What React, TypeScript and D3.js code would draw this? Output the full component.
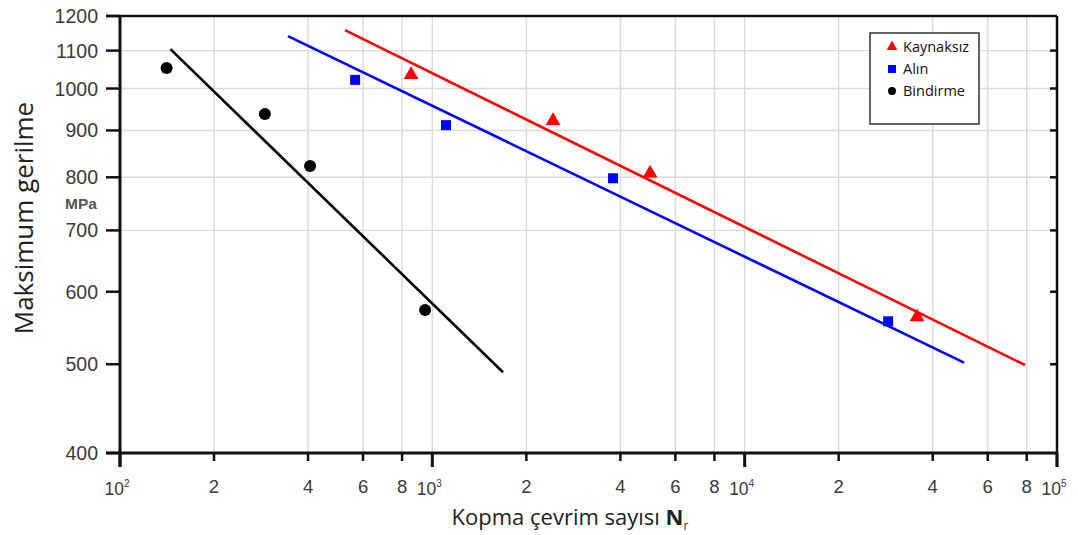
import React, { useEffect, useRef } from "react";
import * as d3 from "d3";

// S-N data (cycles to failure, max stress in MPa)
const seriesNames = ["Kaynaksız", "Alın", "Bindirme"];
const seriesColors = ["#ff0000", "#0000ff", "#000000"];

const kaynaksizN = [855, 2435, 4980, 35650];
const kaynaksizS = [1035, 922, 808, 563];
const alinN = [566, 1106, 3790, 28800];
const alinS = [1022, 912, 798, 557];
const bindirmeN = [141, 291, 406, 948];
const bindirmeS = [1053, 938, 823, 573];

// fitted lines, start and end points
const kaynaksizLineN = [525, 79000];
const kaynaksizLineS = [1158, 499];
const alinLineN = [345, 50400];
const alinLineS = [1141, 502];
const bindirmeLineN = [145, 1684];
const bindirmeLineS = [1104, 490];

const yTicks = [400, 500, 600, 700, 800, 900, 1000, 1100, 1200];
const yGrid = [700, 800, 900, 1000, 1100];
const xDecades = [100, 1000, 10000, 100000];
const xMinorMult = [2, 4, 6, 8];

const App = () => {
	const svgRef = useRef(null);

	useEffect(() => {
		drawChart();
	}, []);

	const drawChart = () => {
		const svg = d3.select(svgRef.current);
		svg.selectAll("*").remove();

		const left = 120,
			right = 1057,
			top = 16,
			bottom = 453;

		const x = d3.scaleLog().domain([100, 100000]).range([left, right]);
		const y = d3.scaleLog().domain([400, 1200]).range([bottom, top]);

		const minor = [];
		xDecades.slice(0, 3).forEach((d) => xMinorMult.forEach((m) => minor.push(d * m)));

		// grid
		const grid = svg.append("g").attr("stroke", "#dadada").attr("stroke-width", 1.4);
		grid
			.selectAll(".gx")
			.data(minor.concat([1000, 10000]))
			.enter()
			.append("line")
			.attr("x1", (d) => x(d))
			.attr("x2", (d) => x(d))
			.attr("y1", top)
			.attr("y2", bottom);
		grid
			.selectAll(".gy")
			.data(yGrid)
			.enter()
			.append("line")
			.attr("x1", left)
			.attr("x2", right)
			.attr("y1", (d) => y(d))
			.attr("y2", (d) => y(d));

		// frame
		svg
			.append("line")
			.attr("x1", left - 14)
			.attr("x2", right)
			.attr("y1", top)
			.attr("y2", top)
			.attr("stroke", "#111")
			.attr("stroke-width", 2.5);
		svg
			.append("line")
			.attr("x1", right)
			.attr("x2", right)
			.attr("y1", top)
			.attr("y2", bottom + 14)
			.attr("stroke", "#111")
			.attr("stroke-width", 2.5);
		svg
			.append("line")
			.attr("x1", left)
			.attr("x2", left)
			.attr("y1", top)
			.attr("y2", bottom + 14)
			.attr("stroke", "#111")
			.attr("stroke-width", 3);
		svg
			.append("line")
			.attr("x1", left - 14)
			.attr("x2", right)
			.attr("y1", bottom)
			.attr("y2", bottom)
			.attr("stroke", "#111")
			.attr("stroke-width", 3);

		// y ticks
		const yt = svg.append("g");
		yt.selectAll("line.l")
			.data(yTicks)
			.enter()
			.append("line")
			.attr("x1", left - 14)
			.attr("x2", left)
			.attr("y1", (d) => y(d))
			.attr("y2", (d) => y(d))
			.attr("stroke", "#111")
			.attr("stroke-width", 2.5);
		yt.selectAll("line.r")
			.data(yTicks.slice(1, -1))
			.enter()
			.append("line")
			.attr("x1", right - 7)
			.attr("x2", right)
			.attr("y1", (d) => y(d))
			.attr("y2", (d) => y(d))
			.attr("stroke", "#111")
			.attr("stroke-width", 2.5);
		yt.selectAll("text")
			.data(yTicks)
			.enter()
			.append("text")
			.attr("x", 98)
			.attr("y", (d) => y(d))
			.attr("dy", "0.36em")
			.attr("text-anchor", "end")
			.attr("font-family", "Liberation Sans, Arial, sans-serif")
			.attr("font-size", 19.5)
			.attr("fill", "#3a3a3a")
			.text((d) => d);

		svg
			.append("text")
			.attr("x", 81)
			.attr("y", 209)
			.attr("text-anchor", "middle")
			.attr("font-family", "Liberation Sans, Arial, sans-serif")
			.attr("font-size", 15.5)
			.attr("font-weight", "bold")
			.attr("fill", "#555")
			.text("MPa");

		// x ticks
		const xt = svg.append("g");
		xt.selectAll("line.maj")
			.data(xDecades)
			.enter()
			.append("line")
			.attr("x1", (d) => x(d))
			.attr("x2", (d) => x(d))
			.attr("y1", bottom)
			.attr("y2", bottom + 14)
			.attr("stroke", "#111")
			.attr("stroke-width", 3);
		xt.selectAll("line.min")
			.data(minor)
			.enter()
			.append("line")
			.attr("x1", (d) => x(d))
			.attr("x2", (d) => x(d))
			.attr("y1", bottom)
			.attr("y2", bottom + 8)
			.attr("stroke", "#111")
			.attr("stroke-width", 2.5);
		xt.selectAll("text.min")
			.data(minor)
			.enter()
			.append("text")
			.attr("x", (d) => x(d))
			.attr("y", 493)
			.attr("text-anchor", "middle")
			.attr("font-family", "Liberation Sans, Arial, sans-serif")
			.attr("font-size", 18.5)
			.attr("fill", "#3a3a3a")
			.text((d) => Math.round(d / Math.pow(10, Math.floor(Math.log10(d)))));
		const dec = xt
			.selectAll("text.maj")
			.data(xDecades)
			.enter()
			.append("text")
			.attr("x", (d) => x(d) - 3)
			.attr("y", 495)
			.attr("text-anchor", "middle")
			.attr("font-family", "Liberation Sans, Arial, sans-serif")
			.attr("font-size", 17.5)
			.attr("fill", "#3a3a3a");
		dec.append("tspan").text("10");
		dec
			.append("tspan")
			.attr("dy", -8)
			.attr("font-size", 10)
			.text((d) => Math.round(Math.log10(d)));

		// axis titles
		const xTitle = svg
			.append("text")
			.attr("x", 570)
			.attr("y", 525)
			.attr("text-anchor", "middle")
			.attr("font-family", "Open Sans, Noto Sans, sans-serif")
			.attr("font-size", 22)
			.attr("fill", "#222");
		xTitle.append("tspan").text("Kopma çevrim sayısı ");
		xTitle.append("tspan").attr("font-weight", "bold").text("N");
		xTitle.append("tspan").attr("font-size", 12).attr("dy", 5).text("r");

		svg
			.append("text")
			.attr("transform", "translate(33,218) rotate(-90)")
			.attr("text-anchor", "middle")
			.attr("font-family", "Open Sans, Noto Sans, sans-serif")
			.attr("font-size", 26)
			.attr("fill", "#222")
			.text("Maksimum gerilme");

		// fit lines
		const lines = [
			[kaynaksizLineN, kaynaksizLineS],
			[alinLineN, alinLineS],
			[bindirmeLineN, bindirmeLineS],
		];
		const lineGen = d3
			.line()
			.x((d) => x(d[0]))
			.y((d) => y(d[1]));
		lines.forEach(([ns, ss], i) => {
			svg
				.append("path")
				.attr("d", lineGen(ns.map((n, j) => [n, ss[j]])))
				.attr("fill", "none")
				.attr("stroke", seriesColors[i])
				.attr("stroke-width", 2.6);
		});

		// markers
		const tri = d3.symbol().type(d3.symbolTriangle).size(95);
		svg
			.append("g")
			.selectAll("path")
			.data(kaynaksizN.map((n, j) => [n, kaynaksizS[j]]))
			.enter()
			.append("path")
			.attr("d", tri())
			.attr("transform", (d) => `translate(${x(d[0])},${y(d[1])})`)
			.attr("fill", seriesColors[0]);
		svg
			.append("g")
			.selectAll("rect")
			.data(alinN.map((n, j) => [n, alinS[j]]))
			.enter()
			.append("rect")
			.attr("x", (d) => x(d[0]) - 5)
			.attr("y", (d) => y(d[1]) - 5)
			.attr("width", 10)
			.attr("height", 10)
			.attr("fill", seriesColors[1]);
		svg
			.append("g")
			.selectAll("circle")
			.data(bindirmeN.map((n, j) => [n, bindirmeS[j]]))
			.enter()
			.append("circle")
			.attr("cx", (d) => x(d[0]))
			.attr("cy", (d) => y(d[1]))
			.attr("r", 6)
			.attr("fill", seriesColors[2]);

		// legend
		const lg = svg.append("g").attr("transform", "translate(870,33)");
		lg.append("rect")
			.attr("width", 109)
			.attr("height", 91)
			.attr("fill", "#fff")
			.attr("stroke", "#333")
			.attr("stroke-width", 1.5);
		seriesNames.forEach((name, i) => {
			const yy = 14 + i * 22;
			if (i === 0)
				lg.append("path")
					.attr("d", d3.symbol().type(d3.symbolTriangle).size(50)())
					.attr("transform", `translate(22,${yy})`)
					.attr("fill", seriesColors[i]);
			else if (i === 1)
				lg.append("rect")
					.attr("x", 18)
					.attr("y", yy - 4)
					.attr("width", 8)
					.attr("height", 8)
					.attr("fill", seriesColors[i]);
			else lg.append("circle").attr("cx", 22).attr("cy", yy).attr("r", 4).attr("fill", seriesColors[i]);
			lg.append("text")
				.attr("x", 33)
				.attr("y", yy)
				.attr("dy", "0.35em")
				.attr("font-family", "Open Sans, Noto Sans, sans-serif")
				.attr("font-size", 14.5)
				.attr("fill", "#111")
				.text(name);
		});
	};

	return (
		<svg
			ref={svgRef}
			width={1078}
			height={535}
			style={{ position: "absolute", left: 0, top: 0, background: "#fff" }}
		></svg>
	);
};

export default App;
